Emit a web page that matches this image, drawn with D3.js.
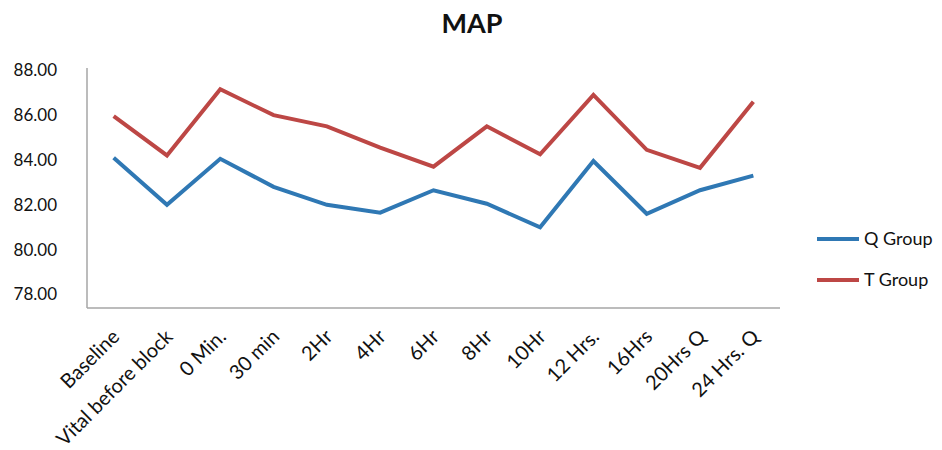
<!DOCTYPE html>
<html>
<head>
<meta charset="utf-8">
<script src="https://cdn.jsdelivr.net/npm/d3@7"></script>
<style>
  body { margin: 0; background: #fff; }
  text { font-family: Lato, "Open Sans", sans-serif; fill: #111; }
</style>
</head>
<body>
<div id="vis"></div>
<script>
// chart data
const CATEGORIES = ['Baseline', 'Vital before block', '0 Min.', '30 min', '2Hr', '4Hr', '6Hr',
                    '8Hr', '10Hr', '12 Hrs.', '16Hrs', '20Hrs Q', '24 Hrs. Q'];
const Q_GROUP = [84.1, 82.0, 84.05, 82.8, 82.0, 81.65, 82.65, 82.05, 81.0, 83.95, 81.6, 82.65, 83.3];
const T_GROUP = [85.95, 84.2, 87.15, 86.0, 85.5, 84.55, 83.7, 85.5, 84.25, 86.9, 84.45, 83.65, 86.6];
const SERIES_NAMES = ['Q Group', 'T Group'];
const Y_TICKS = [78, 80, 82, 84, 86, 88];

const FRAME_WIDTH = 942;
const FRAME_HEIGHT = 450;
const PLOT = {left: 87, right: 780, top: 68, bottom: 308};
const COLORS = ['#2f78b4', '#bd4745'];

const FRAME = d3.select('#vis')
    .append('svg')
        .attr('width', FRAME_WIDTH)
        .attr('height', FRAME_HEIGHT);

// scales
const X_SCALE = d3.scalePoint()
    .domain(CATEGORIES)
    .range([PLOT.left, PLOT.right])
    .padding(0.5);

const Y_SCALE = d3.scaleLinear()
    .domain([77.4, 88.1])
    .range([PLOT.bottom, PLOT.top]);

// title
FRAME.append('text')
    .attr('x', 472)
    .attr('y', 33)
    .attr('text-anchor', 'middle')
    .attr('font-size', '27px')
    .attr('font-weight', 'bold')
    .text('MAP');

// y axis (line only, labels at ticks)
const yAxis = FRAME.append('g')
    .attr('transform', 'translate(' + PLOT.left + ',0)')
    .call(d3.axisLeft(Y_SCALE).tickValues(Y_TICKS).tickFormat(d3.format('.2f'))
        .tickSize(0).tickPadding(30));
yAxis.select('.domain').remove();
yAxis.selectAll('text').attr('font-size', '17px').attr('font-family', 'Lato, sans-serif');
FRAME.append('line')
    .attr('x1', PLOT.left).attr('x2', PLOT.left)
    .attr('y1', PLOT.top).attr('y2', PLOT.bottom)
    .attr('stroke', '#a6a6a6').attr('stroke-width', 1.5);

// x axis
FRAME.append('line')
    .attr('x1', PLOT.left).attr('x2', PLOT.right)
    .attr('y1', PLOT.bottom).attr('y2', PLOT.bottom)
    .attr('stroke', '#a6a6a6').attr('stroke-width', 1.5);

FRAME.append('g')
    .selectAll('text')
    .data(CATEGORIES)
    .enter()
    .append('text')
    .attr('transform', d => 'translate(' + (X_SCALE(d) + 2) + ',' + 333 + ') rotate(-45)')
    .attr('text-anchor', 'end')
    .attr('dy', '0.35em')
    .attr('font-size', '20px')
    .text(d => d);

// lines
const seriesData = [Q_GROUP, T_GROUP];
const line = d3.line()
    .x((d, i) => X_SCALE(CATEGORIES[i]))
    .y(d => Y_SCALE(d));

FRAME.selectAll('.series')
    .data(seriesData)
    .enter()
    .append('path')
    .attr('class', 'series')
    .attr('d', d => line(d))
    .attr('fill', 'none')
    .attr('stroke', (d, i) => COLORS[i])
    .attr('stroke-width', 4)
    .attr('stroke-linejoin', 'miter');

// legend
const legend = FRAME.append('g');
SERIES_NAMES.forEach((name, i) => {
    const y = 239 + i * 41;
    legend.append('line')
        .attr('x1', 817).attr('x2', 859)
        .attr('y1', y).attr('y2', y)
        .attr('stroke', COLORS[i])
        .attr('stroke-width', 4);
    legend.append('text')
        .attr('x', 864)
        .attr('y', y)
        .attr('dy', '0.35em')
        .attr('font-size', '18px')
        .text(name);
});
</script>
</body>
</html>
